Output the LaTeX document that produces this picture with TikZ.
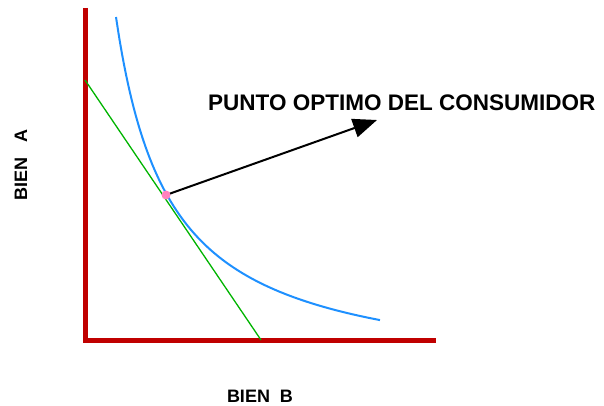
\documentclass[tikz,border=0pt]{standalone}
\usepackage{fontspec}
\setmainfont{Liberation Sans}
\usetikzlibrary{arrows.meta}
\definecolor{axisred}{RGB}{192,0,0}
\definecolor{curveblue}{RGB}{30,144,255}
\definecolor{budgetgreen}{RGB}{0,180,0}
\definecolor{dotpink}{RGB}{255,130,190}
\tikzset{
  axis/.style={draw=axisred,line width=5pt},
  lbl/.style={font=\bfseries\fontsize{18}{20}\selectfont,inner sep=0pt},
  ttl/.style={font=\bfseries\fontsize{22.5}{26}\selectfont,inner sep=0pt},
}
\begin{document}
\begin{tikzpicture}[x=1pt,y=-1pt]
\useasboundingbox (0,0) rectangle (604,406);
\coordinate (top) at (85,8);
\coordinate (orig) at (85,340);
\coordinate (right) at (436,340);
\draw[axis,line join=miter] (top) -- (orig) -- (right);
\coordinate (g1) at (85,80);
\coordinate (g2) at (261,340);
\draw[budgetgreen,line width=1.3pt] (g1) -- (g2);
\draw[curveblue,line width=2pt] plot[domain=116:380,samples=80,smooth] (\x,{381.4-194.57*(100/(\x-62.6))});
\coordinate (optc) at (166,195);
\coordinate (tip) at (377,120);
\draw[line width=2pt,-{Triangle[length=24pt,width=19pt]}] (optc) -- (tip);
\node[circle,fill=dotpink,minimum size=9pt,inner sep=0pt] (opt) at (optc) {};
\node[ttl,anchor=base west] (title) at (208,111) {PUNTO OPTIMO DEL CONSUMIDOR};
\node[lbl,anchor=base] (bb) at (260,402) {BIEN\ \ B};
\node[lbl,rotate=90,anchor=base] (ba) at (27,165) {BIEN\ \ \ A};
\end{tikzpicture}
\end{document}
